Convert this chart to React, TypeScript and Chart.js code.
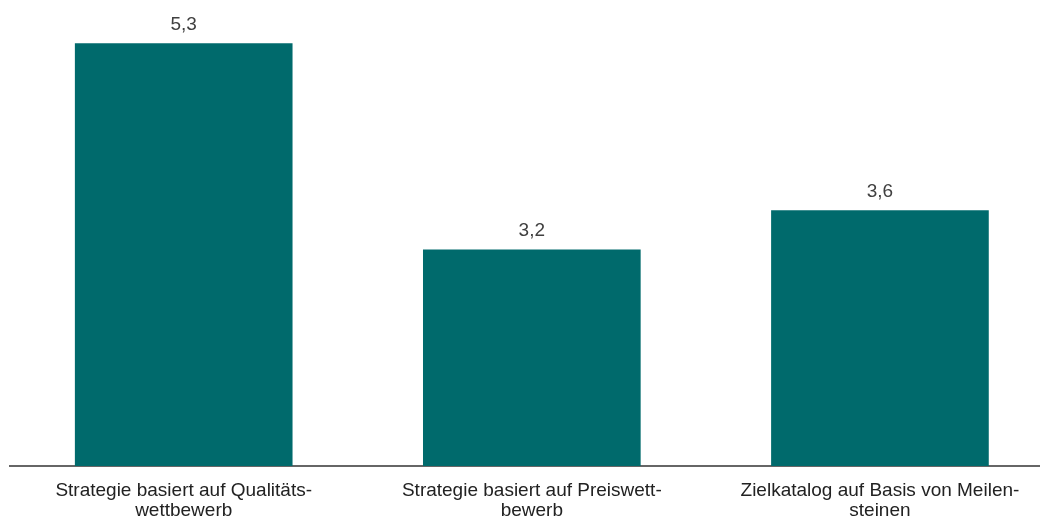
import React, { useEffect, useRef } from "react";
import { Chart, registerables } from "chart.js";

Chart.register(...registerables);

const categories: string[][] = [
  ["Strategie basiert auf Qualitäts-", "wettbewerb"],
  ["Strategie basiert auf Preiswett-", "bewerb"],
  ["Zielkatalog auf Basis von Meilen-", "steinen"],
];
const values: number[] = [5.3, 3.2, 3.6];
const valueLabels: string[] = ["5,3", "3,2", "3,6"];

const FONT = '"Liberation Sans", Arial, sans-serif';

const valueLabelPlugin = {
  id: "valueLabels",
  afterDatasetsDraw(chart: any) {
    const ctx = chart.ctx;
    const meta = chart.getDatasetMeta(0);
    ctx.save();
    ctx.font = `19px ${FONT}`;
    ctx.fillStyle = "#404040";
    ctx.textAlign = "center";
    ctx.textBaseline = "middle";
    meta.data.forEach((bar: any, i: number) => {
      ctx.fillText(valueLabels[i], bar.x, bar.y - 19);
    });
    ctx.restore();
  },
};

export default function App() {
  const ref = useRef<HTMLCanvasElement | null>(null);
  useEffect(() => {
    if (!ref.current) return;
    const chart = new Chart(ref.current, {
      type: "bar",
      data: {
        labels: categories,
        datasets: [
          {
            data: values,
            backgroundColor: "#006A6C",
            borderWidth: 0,
            barThickness: 217,
          },
        ],
      },
      options: {
        animation: false,
        responsive: false,
        layout: { padding: { top: 6, left: 1.65, right: 0, bottom: 0 } },
        plugins: {
          legend: { display: false },
          tooltip: { enabled: false },
        },
        scales: {
          x: {
            type: "category",
            offset: true,
            grid: { display: false, drawTicks: false },
            border: { display: true, color: "#666666", width: 2 },
            afterFit: (axis: any) => {
              axis.height = 52;
              axis.paddingLeft = 0;
              axis.paddingRight = 0;
            },
            ticks: {
              autoSkip: false,
              maxRotation: 0,
              minRotation: 0,
              padding: 15,
              color: "#222222",
              font: { family: FONT, size: 19, lineHeight: 1.05 },
            },
          },
          y: {
            display: false,
            min: 1,
            max: 5.6,
          },
        },
      },
      plugins: [valueLabelPlugin],
    });
    return () => chart.destroy();
  }, []);
  return (
    <div
      style={{
        position: "fixed",
        left: 8,
        top: 8,
        width: 1032,
        height: 510,
        overflow: "hidden",
      }}
    >
      <canvas ref={ref} width={1046} height={510} style={{ display: "block" }} />
    </div>
  );
}
